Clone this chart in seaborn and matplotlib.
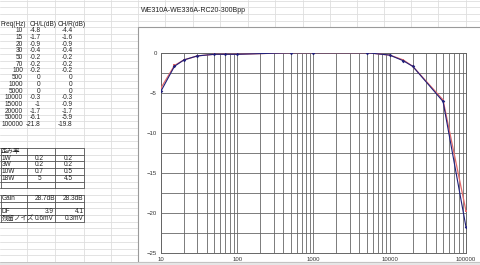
import numpy as np
import pandas as pd
import matplotlib
matplotlib.use('Agg')
import matplotlib.pyplot as plt
import seaborn as sns
from matplotlib.ticker import LogLocator, MultipleLocator, NullFormatter, FixedLocator, FixedFormatter
from matplotlib.patches import Rectangle
from matplotlib.lines import Line2D

# ---------------- data ----------------
title = 'WE310A-WE336A-RC20-300Bpp'
freq = [10, 15, 20, 30, 50, 70, 100, 500, 1000, 5000, 10000, 15000, 20000, 50000, 100000]
ch_l = [-4.8, -1.7, -0.9, -0.4, -0.2, -0.2, -0.2, 0, 0, 0, -0.3, -1, -1.7, -6.1, -21.8]
ch_r = [-4.4, -1.6, -0.9, -0.4, -0.2, -0.2, -0.2, 0, 0, 0, -0.3, -0.9, -1.7, -5.9, -19.8]
dist_labels = ['1W', '3W', '10W', '18W']
dist_l = ['0.2', '0.2', '0.7', '5']
dist_r = ['0.2', '0.2', '0.5', '4.5']
gain = ['28.7dB', '28.3dB']
df_vals = ['3.9', '4.1']
noise = ['0.6mV', '0.3mV']
x_ticks = [10, 100, 1000, 10000, 100000]
y_ticks = [0, -5, -10, -15, -20, -25]

sns.set_style('white')
plt.rcParams['font.family'] = ['Liberation Sans', 'Noto Sans CJK JP', 'DejaVu Sans']

W, H = 480, 265
fig = plt.figure(figsize=(4.8, 2.65), dpi=100)
fig.patch.set_facecolor('white')

def fx(x):
    return x / W

def fy(y):
    return 1 - y / H

def hline(x0, x1, y, color='#dedede', lw=0.6, z=-3):
    fig.add_artist(Line2D([fx(x0), fx(x1)], [fy(y), fy(y)], color=color, lw=lw, zorder=z,
                          transform=fig.transFigure))

def vline(x, y0, y1, color='#dedede', lw=0.6, z=-3):
    fig.add_artist(Line2D([fx(x), fx(x)], [fy(y0), fy(y1)], color=color, lw=lw, zorder=z,
                          transform=fig.transFigure))

# spreadsheet grid
rh = 6.7
row0 = 30.8
cols = [27, 55, 84, 111, 138, 165, 193, 220, 248, 275, 303, 330, 357, 384, 411, 438, 466]
for c in cols:
    vline(c, 0, 262)
k = -5
while True:
    y = row0 - rh / 2 + rh * k
    if y > 262:
        break
    if y > 0:
        hline(0, W, y)
    k += 1

def rc(k):
    return row0 + rh * k

# chart frame (white)
fig.add_artist(Rectangle((fx(137.5), fy(262)), fx(W - 137.5 + 5), (262 - 27) / H,
                         transform=fig.transFigure, facecolor='white', edgecolor='#9a9a9a',
                         lw=0.8, zorder=-1))
# bottom strip
fig.add_artist(Rectangle((0, 0), 1, 3 / H, transform=fig.transFigure, facecolor='#e6e6e6',
                         edgecolor='none', zorder=-1))
hline(0, W, 262, color='#bdbdbd', lw=0.6, z=-1)

fs = 4.7
def t(x, y, s, ha='left', **kw):
    fig.text(fx(x), fy(y), s, ha=ha, va='center', fontsize=fs, color='#222222', **kw)

fig.text(fx(141), fy(rc(-3)), title, ha='left', va='center', fontsize=5.0, color='#222222')

# frequency table
t(0.5, rc(-1), 'Freq(Hz)')
t(30, rc(-1), 'CH/L(dB)')
t(57.5, rc(-1), 'CH/R(dB)')
for i, (f, l, r) in enumerate(zip(freq, ch_l, ch_r)):
    t(23, rc(i), str(f), ha='right')
    t(40.5, rc(i), f'{l:g}', ha='right')
    t(72.5, rc(i), f'{r:g}', ha='right')

# distortion table
bc = '#555555'
t(1, rc(18), '歪み率')
for j, (lab, a, b) in enumerate(zip(dist_labels, dist_l, dist_r)):
    t(1.5, rc(19 + j), lab)
    t(39.5, rc(19 + j), a, ha='center')
    t(68.5, rc(19 + j), b, ha='center')
top = rc(18) - rh / 2
bot = rc(23) + rh / 2
for kk in range(18, 25):
    hline(0, 84, rc(kk) - rh / 2, color=bc, lw=0.6, z=1)
for c in [0.5, 27, 55, 84]:
    vline(c, top, bot, color=bc, lw=0.6, z=1)

# gain / DF / noise table
t(1.5, rc(25), 'Gain')
t(55, rc(25), gain[0], ha='right')
t(83.5, rc(25), gain[1], ha='right')
t(1.5, rc(27), 'DF')
t(54, rc(27), df_vals[0], ha='right')
t(83.5, rc(27), df_vals[1], ha='right')
t(1.5, rc(28), '残留ノイズ')
t(54, rc(28), noise[0], ha='right')
t(83.5, rc(28), noise[1], ha='right')
for kk in range(25, 30):
    hline(0, 84, rc(kk) - rh / 2, color=bc, lw=0.6, z=1)
for c in [0.5, 27, 55, 84]:
    vline(c, rc(25) - rh / 2, rc(28) + rh / 2, color=bc, lw=0.6, z=1)

# ---------------- chart ----------------
ax = fig.add_axes([161 / W, 1 - 252.7 / H, (466 - 161) / W, 200 / H])
ax.set_facecolor('white')
data = pd.DataFrame({'freq': freq, 'L': ch_l, 'R': ch_r})
sns.lineplot(data=data, x='freq', y='R', ax=ax, color='#e36b6b', lw=0.9,
             marker='s', markersize=1.7, markeredgewidth=0, zorder=3)
sns.lineplot(data=data, x='freq', y='L', ax=ax, color='#20207a', lw=0.8,
             marker='D', markersize=1.8, markeredgewidth=0, zorder=4)
ax.set_xscale('log')
ax.set_xlim(10, 100000)
ax.set_ylim(-25, 0)
ax.xaxis.set_major_locator(FixedLocator(x_ticks))
ax.xaxis.set_major_formatter(FixedFormatter([str(v) for v in x_ticks]))
ax.xaxis.set_minor_locator(LogLocator(base=10, subs=range(2, 10), numticks=20))
ax.xaxis.set_minor_formatter(NullFormatter())
ax.yaxis.set_major_locator(FixedLocator(y_ticks))
ax.yaxis.set_minor_locator(MultipleLocator(2.5))
ax.grid(True, which='both', color='#666666', lw=0.6)
ax.set_axisbelow(True)
for s in ax.spines.values():
    s.set_color('#666666')
    s.set_linewidth(0.7)
ax.tick_params(axis='both', which='both', length=0, labelsize=4.3, colors='#333333', pad=3)
ax.set_xlabel('')
ax.set_ylabel('')

fig.savefig('out.png', dpi=100)
